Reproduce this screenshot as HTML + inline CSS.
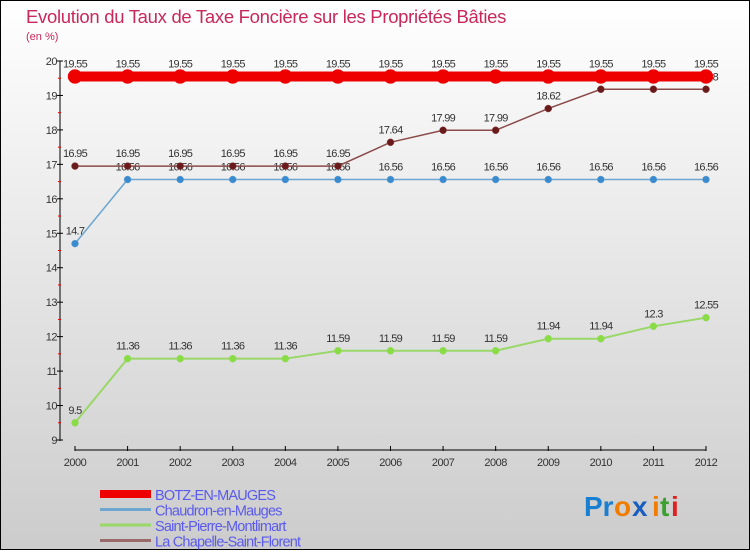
<!DOCTYPE html>
<html><head><meta charset="utf-8"><style>
html,body{margin:0;padding:0;}
body{width:750px;height:550px;overflow:hidden;font-family:"Liberation Sans",sans-serif;}
svg text{font-family:"Liberation Sans",sans-serif;}
</style></head><body>
<svg id="chart" width="750" height="550" viewBox="0 0 750 550">
<defs><linearGradient id="bg" x1="0" y1="0" x2="0" y2="1"><stop offset="0" stop-color="#ffffff"/><stop offset="1" stop-color="#cccccc"/></linearGradient></defs>
<rect x="0.5" y="0.5" width="749" height="549" fill="url(#bg)" stroke="#000"/>
<text x="26" y="23" font-size="18.5" fill="#c8285a" letter-spacing="-0.3">Evolution du Taux de Taxe Foncière sur les Propriétés Bâties</text>
<text x="26" y="40" font-size="11" fill="#c8285a">(en %)</text>
<g id="axes"></g>
<g id="series"></g>
<g id="legend"></g>
<g font-size="28" font-weight="bold">
<text x="584" y="516" fill="#1a7fd0">Pr</text><text x="614" y="516" fill="#f07d00">o</text><text x="632" y="516" fill="#1a5fc0">x</text><text x="652" y="516" fill="#f07d00">i</text><text x="660" y="516" fill="#3aa030">t</text><text x="671" y="516" fill="#e02020">i</text>
</g>
</svg>
<script>
const years=[2000,2001,2002,2003,2004,2005,2006,2007,2008,2009,2010,2011,2012];
const yTicks=[9,10,11,12,13,14,15,16,17,18,19,20];
const seriesNames=["BOTZ-EN-MAUGES","Chaudron-en-Mauges","Saint-Pierre-Montlimart","La Chapelle-Saint-Florent"];
const botz=[19.55,19.55,19.55,19.55,19.55,19.55,19.55,19.55,19.55,19.55,19.55,19.55,19.55];
const chaudron=[14.7,16.56,16.56,16.56,16.56,16.56,16.56,16.56,16.56,16.56,16.56,16.56,16.56];
const stPierre=[9.5,11.36,11.36,11.36,11.36,11.59,11.59,11.59,11.59,11.94,11.94,12.3,12.55];
const chapelle=[16.95,16.95,16.95,16.95,16.95,16.95,17.64,17.99,17.99,18.62,19.18,19.18,19.18];
const NS="http://www.w3.org/2000/svg";
const X=i=>75+i*(706-75)/(years.length-1);
const Y=v=>440-(v-9)*(440-61)/11;
function mk(tag,attrs,parent){const e=document.createElementNS(NS,tag);for(const k in attrs)e.setAttribute(k,attrs[k]);parent.appendChild(e);return e;}
const axes=document.getElementById('axes');
const ya=mk('line',{x1:60,y1:61,x2:60,y2:441,stroke:'#000','stroke-width':1},axes);


const xa=mk('line',{x1:75,y1:450,x2:706,y2:450,stroke:'#000','stroke-width':1},axes);


yTicks.forEach(t=>{
  mk('line',{x1:57,y1:Y(t),x2:63,y2:Y(t),stroke:'#000'},axes);
  if(t<20) mk('line',{x1:58,y1:Y(t+0.5),x2:61,y2:Y(t+0.5),stroke:'#e00'},axes);
  const tx=mk('text',{x:57,y:Y(t)+4,'text-anchor':'end','font-size':11,fill:'#333','letter-spacing':'-0.5'},axes);
  tx.textContent=t;
  
  
});
years.forEach((yr,i)=>{
  mk('line',{x1:X(i),y1:446,x2:X(i),y2:451,stroke:'#000'},axes);
  const tx=mk('text',{x:X(i),y:466,'text-anchor':'middle','font-size':11,fill:'#333','letter-spacing':'-0.5'},axes);
  tx.textContent=yr;
  
  
});
const sg=document.getElementById('series');
function draw(vals,color,dot,width,r,name){
  const g=mk('g',{},sg);
  
  
  mk('polyline',{points:vals.map((v,i)=>X(i)+','+Y(v)).join(' '),fill:'none',stroke:color,'stroke-width':width},g);
  vals.forEach((v,i)=>{
    const c=mk('circle',{cx:X(i),cy:Y(v),r:r,fill:dot,stroke:color,'stroke-width':0.5},g);
    
    
    const t=mk('text',{x:X(i),y:Y(v)-9,'text-anchor':'middle','font-size':11,fill:'#333','letter-spacing':'-0.7'},g);
    t.textContent=String(v);
    
    
  });
}
draw(chaudron,'#6ea6d0','#3a8ad0',1.5,3.5,'series-chaudron');
draw(stPierre,'#99d868','#88dd44',2,3.5,'series-saint-pierre');
draw(chapelle,'#8b4a4a','#6a1a1a',1.5,3.5,'series-chapelle');
draw(botz,'#ee0000','#ee0000',10,7,'series-botz');
const lg=document.getElementById('legend');
const lcol=['#ee0000','#6ea6d0','#99d868','#9a6a6a'];
const lw=[8,3,3,3];
seriesNames.forEach((n,i)=>{
  const y=494+i*15.5;
  const g=mk('g',{},lg);
  
  
  mk('line',{x1:100,y1:y,x2:151,y2:y,stroke:lcol[i],'stroke-width':lw[i]},g);
  const t=mk('text',{x:155,y:y+6,'font-size':14.5,fill:'#5a5aee','letter-spacing':'-0.8'},g);
  t.textContent=n;
});
</script>
</body></html>
